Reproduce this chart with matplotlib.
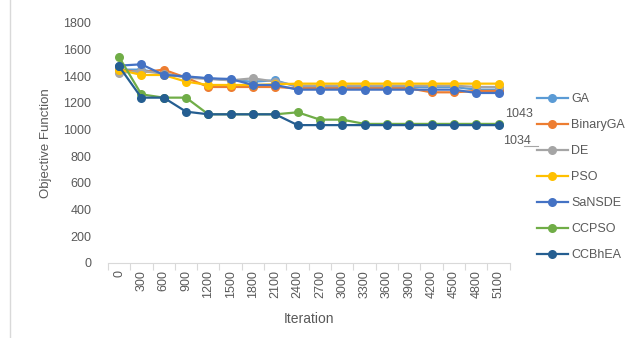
import matplotlib
matplotlib.use("Agg")
import matplotlib.pyplot as plt
import numpy as np

# Convergence of each optimiser, sampled every 300 iterations
iterations = [0, 300, 600, 900, 1200, 1500, 1800, 2100, 2400, 2700,
              3000, 3300, 3600, 3900, 4200, 4500, 4800, 5100]

ga = [1450, 1450, 1420, 1395, 1385, 1370, 1360, 1370, 1320, 1320,
      1320, 1320, 1320, 1320, 1320, 1320, 1300, 1300]
binary_ga = [1450, 1430, 1450, 1390, 1320, 1320, 1320, 1320, 1310, 1310,
             1310, 1310, 1310, 1310, 1280, 1280, 1290, 1290]
de = [1425, 1440, 1420, 1390, 1380, 1370, 1385, 1360, 1330, 1330,
      1330, 1330, 1330, 1330, 1330, 1330, 1320, 1320]
pso = [1450, 1410, 1410, 1360, 1335, 1335, 1335, 1340, 1345, 1345,
       1345, 1345, 1345, 1345, 1345, 1345, 1345, 1345]
sansde = [1480, 1490, 1410, 1400, 1385, 1380, 1335, 1335, 1300, 1300,
          1300, 1300, 1300, 1300, 1300, 1300, 1275, 1275]
ccpso = [1545, 1265, 1240, 1240, 1115, 1115, 1115, 1115, 1130, 1075,
         1075, 1043, 1043, 1043, 1043, 1043, 1043, 1043]
ccbhea = [1475, 1240, 1240, 1135, 1115, 1115, 1115, 1115, 1034, 1034,
          1034, 1034, 1034, 1034, 1034, 1034, 1034, 1034]

series = [
    ("GA", ga, "#5B9BD5"),
    ("BinaryGA", binary_ga, "#ED7D31"),
    ("DE", de, "#A5A5A5"),
    ("PSO", pso, "#FFC000"),
    ("SaNSDE", sansde, "#4472C4"),
    ("CCPSO", ccpso, "#70AD47"),
    ("CCBhEA", ccbhea, "#255E91"),
]

text_color = "#595959"
plt.rcParams["font.family"] = ["Liberation Sans", "DejaVu Sans"]

fig = plt.figure(figsize=(6.42, 3.38), dpi=100)
ax = fig.add_axes([0.168, 0.222, 0.626, 0.710])

x = np.arange(len(iterations))
for name, vals, color in series:
    ax.plot(x, vals, color=color, lw=1.6, marker="o", markersize=6.5,
            markeredgewidth=0, label=name)

ax.set_xlim(-0.5, len(iterations) - 0.5)
ax.set_ylim(0, 1800)
ax.set_yticks(range(0, 1801, 200))
ax.tick_params(axis="y", length=0, labelsize=9, colors=text_color, pad=12)

# category labels in the middle, tick marks on the boundaries
ax.set_xticks(x)
ax.set_xticklabels([str(v) for v in iterations], rotation=90)
ax.tick_params(axis="x", which="major", length=0, labelsize=9,
               colors=text_color, pad=5)
ax.set_xticks(np.arange(-0.5, len(iterations)), minor=True)
ax.tick_params(axis="x", which="minor", length=5, color="#D9D9D9", width=0.8)

for side in ("top", "right", "left"):
    ax.spines[side].set_visible(False)
ax.spines["bottom"].set_color("#D9D9D9")
ax.spines["bottom"].set_linewidth(0.8)

ax.set_ylabel("Objective Function", fontsize=9.5, color=text_color, labelpad=8)
ax.set_xlabel("Iteration", fontsize=10, color=text_color, labelpad=10)

leg = ax.legend(loc="upper left", bbox_to_anchor=(1.055, 0.729), frameon=False,
                fontsize=9, labelspacing=1.12, handlelength=2.5,
                handletextpad=0.25, borderaxespad=0)
for t in leg.get_texts():
    t.set_color(text_color)

# final-value labels
fig.text(0.787, 0.655, "1043", fontsize=9, color=text_color)
fig.text(0.783, 0.575, "1034", fontsize=9, color=text_color)
fig.add_artist(plt.Line2D([0.816, 0.838], [0.568, 0.568], color="#A5A5A5",
                          lw=0.8, transform=fig.transFigure))

# left edge of the chart frame
fig.add_artist(plt.Line2D([0.015, 0.015], [0.0, 1.0], color="#D9D9D9",
                          lw=1.0, transform=fig.transFigure))

fig.savefig("out.png", dpi=100)
